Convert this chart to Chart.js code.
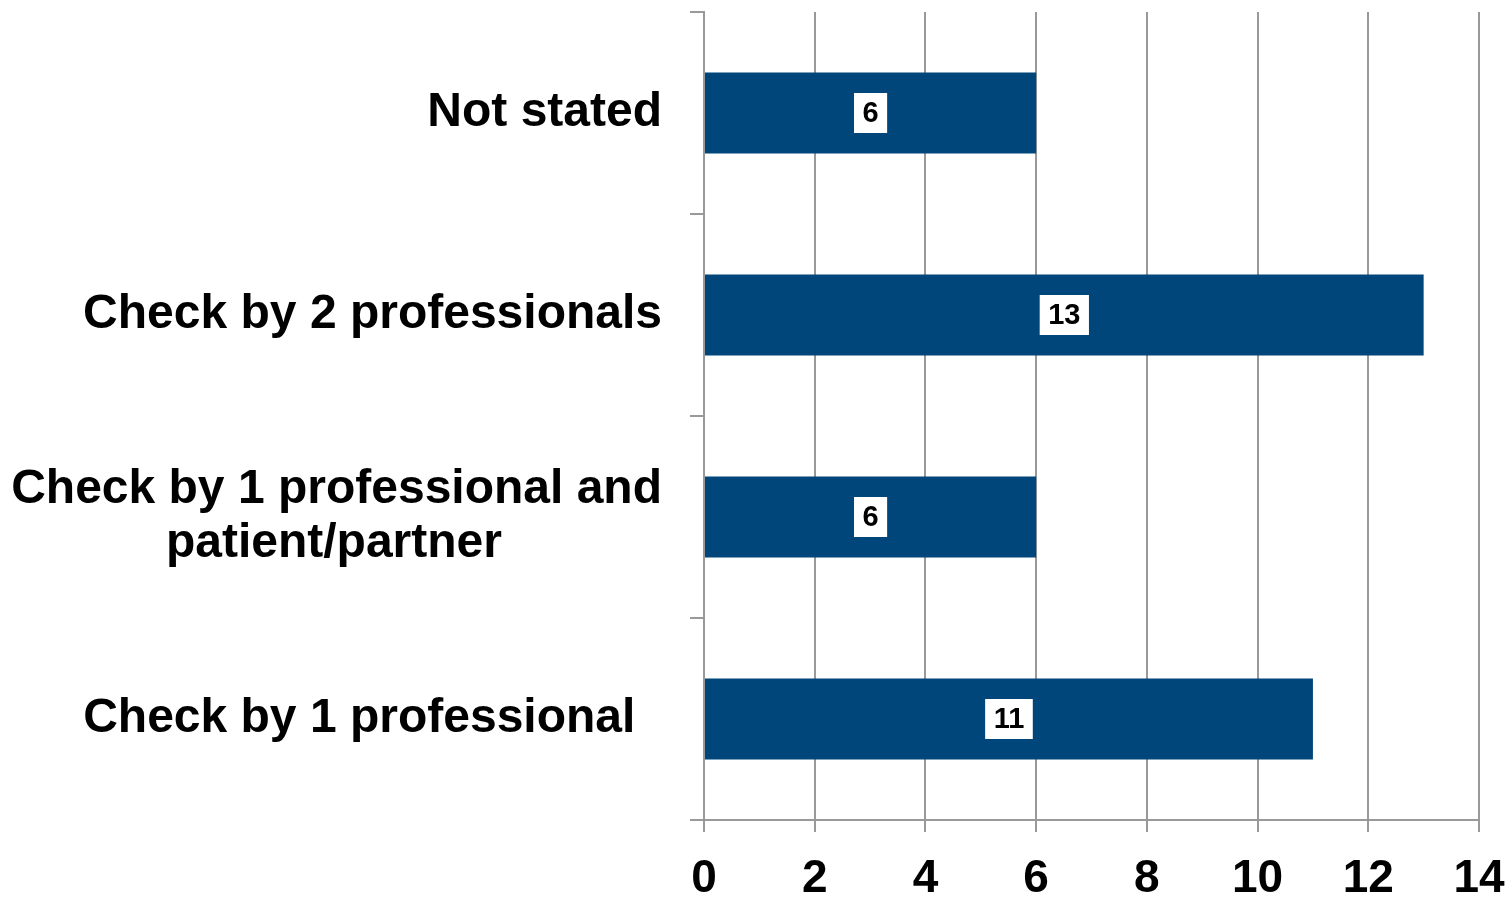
<!DOCTYPE html>
<html>
<head>
<meta charset="utf-8">
<script src="https://cdn.jsdelivr.net/npm/chart.js@4/dist/chart.umd.min.js"></script>
<style>
  html, body { margin: 0; padding: 0; background: #fff; }
  #wrap { width: 1511px; height: 897px; }
</style>
</head>
<body>
<div id="wrap"><canvas id="myChart"></canvas></div>
<script>
// Chart data
const categories = [
  'Not stated',
  'Check by 2 professionals',
  ['Check by 1 professional and', 'patient/partner            '],
  'Check by 1 professional  '
];
const counts = [6, 13, 6, 11];
const xTicks = [0, 2, 4, 6, 8, 10, 12, 14];

const FONT = "'Liberation Sans', Arial, sans-serif";
const GRID = '#999999';

// White boxed value labels in the middle of each bar
const valueLabels = {
  id: 'valueLabels',
  afterDatasetsDraw(chart) {
    const ctx = chart.ctx;
    const meta = chart.getDatasetMeta(0);
    ctx.save();
    ctx.font = 'bold 29px ' + FONT;
    ctx.textAlign = 'center';
    ctx.textBaseline = 'middle';
    meta.data.forEach((bar, i) => {
      const text = String(counts[i]);
      const cx = (bar.x + bar.base) / 2;
      const cy = bar.y;
      const w = ctx.measureText(text).width + 17;
      const h = 40;
      ctx.fillStyle = '#ffffff';
      ctx.fillRect(cx - w / 2, cy - h / 2, w, h);
      ctx.fillStyle = '#000000';
      ctx.fillText(text, cx, cy + 1);
    });
    ctx.restore();
  }
};

const config = {
  type: 'bar',
  data: {
    labels: categories,
    datasets: [{
      data: counts,
      backgroundColor: '#00467a',
      borderWidth: 0,
      categoryPercentage: 1,
      barPercentage: 0.4
    }]
  },
  options: {
    indexAxis: 'y',
    responsive: true,
    maintainAspectRatio: false,
    animation: false,
    layout: {
      padding: { top: 12, right: 32, left: 0, bottom: 0 }
    },
    plugins: {
      legend: { display: false },
      tooltip: { enabled: false }
    },
    scales: {
      x: {
        min: 0,
        max: 14,
        afterBuildTicks: (scale) => {
          scale.ticks = xTicks.map(v => ({ value: v }));
        },
        afterFit: (scale) => {
          scale.height = 77;
          scale.paddingLeft = 0;
          scale.paddingRight = 0;
        },
        grid: {
          color: GRID,
          lineWidth: 2,
          tickLength: 12,
          drawOnChartArea: true
        },
        border: { display: true, color: GRID, width: 2 },
        ticks: {
          color: '#000',
          padding: 20,
          font: { family: FONT, size: 46, weight: 'bold' }
        }
      },
      y: {
        offset: true,
        afterFit: (scale) => {
          scale.width = 704;
          scale.paddingTop = 0;
          scale.paddingBottom = 0;
        },
        grid: {
          offset: true,
          color: GRID,
          lineWidth: 2,
          tickLength: 14,
          drawOnChartArea: false
        },
        border: { display: true, color: GRID, width: 2 },
        ticks: {
          color: '#000',
          padding: 28,
          font: { family: FONT, size: 48, weight: 'bold', lineHeight: 1.13 }
        }
      }
    }
  },
  plugins: [valueLabels]
};

const myChart = new Chart(document.getElementById('myChart'), config);
</script>
</body>
</html>
